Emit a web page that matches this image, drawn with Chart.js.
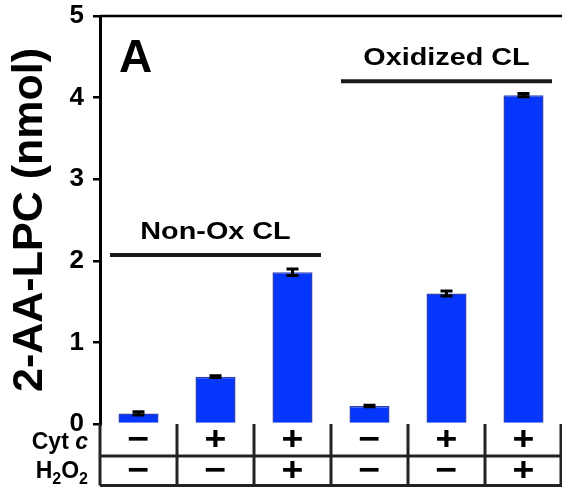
<!DOCTYPE html>
<html>
<head>
<meta charset="utf-8">
<script src="https://cdn.jsdelivr.net/npm/chart.js@4"></script>
<style>
  html, body { margin: 0; padding: 0; background: #fff; }
  #wrap { width: 562px; height: 487px; }
</style>
</head>
<body>
<div id="wrap"><canvas id="grafico" width="562" height="487"></canvas></div>
<script>
const categorias = ["1", "2", "3", "4", "5", "6"];
const valores = [0.13, 0.58, 1.86, 0.22, 1.60, 4.03];
const erros = [0.02, 0.01, 0.04, 0.01, 0.03, 0.02];
const linhaCyt = ["−", "+", "+", "−", "+", "+"];
const linhaH2O2 = ["−", "−", "+", "−", "−", "+"];
const grupos = [
  { nome: "Non-Ox CL", de: 0, ate: 2, valorY: 2.07 },
  { nome: "Oxidized CL", de: 3, ate: 5, valorY: 4.2 }
];
const ticksY = [0, 1, 2, 3, 4, 5];

const FONTE = "'Liberation Sans', Arial, sans-serif";

// texto esticado na horizontal, como no original
function textoLargo(ctx, txt, x, y, esc) {
  ctx.save();
  ctx.translate(x, y);
  ctx.scale(esc, 1);
  ctx.fillText(txt, 0, 0);
  ctx.restore();
}

const pluginDesenho = {
  id: "desenho",
  afterDatasetsDraw(chart) {
    const ctx = chart.ctx;
    const x = chart.scales.x;
    const y = chart.scales.y;
    const area = chart.chartArea;
    const meta = chart.getDatasetMeta(0);

    // barras de erro
    ctx.save();
    ctx.strokeStyle = "#000";
    ctx.lineWidth = 3;
    meta.data.forEach((bar, i) => {
      const cx = bar.x;
      const yTop = y.getPixelForValue(valores[i] + erros[i]);
      const yBot = y.getPixelForValue(valores[i] - erros[i]);
      ctx.beginPath();
      ctx.moveTo(cx, yTop); ctx.lineTo(cx, yBot);
      ctx.moveTo(cx - 6, yTop); ctx.lineTo(cx + 6, yTop);
      ctx.moveTo(cx - 6, yBot); ctx.lineTo(cx + 6, yBot);
      ctx.stroke();
    });

    // linha superior
    ctx.lineWidth = 2.5;
    ctx.beginPath();
    ctx.moveTo(area.left, area.top);
    ctx.lineTo(area.right, area.top);
    ctx.stroke();

    // "A"
    ctx.fillStyle = "#000";
    ctx.font = "bold 46px " + FONTE;
    ctx.textAlign = "left";
    ctx.textBaseline = "alphabetic";
    ctx.fillText("A", 119, 72);

    // grupos
    const passo = x.getPixelForValue(1) - x.getPixelForValue(0);
    grupos.forEach(g => {
      const x0 = x.getPixelForValue(g.de) - passo * 0.37;
      const x1 = x.getPixelForValue(g.ate) + passo * 0.37;
      const yl = y.getPixelForValue(g.valorY);
      ctx.lineWidth = 4;
      ctx.strokeStyle = "#1a1a1a";
      ctx.beginPath();
      ctx.moveTo(x0, yl); ctx.lineTo(x1, yl);
      ctx.stroke();
      ctx.font = "bold 24px " + FONTE;
      ctx.textAlign = "center";
      ctx.fillStyle = "#000";
      textoLargo(ctx, g.nome, (x0 + x1) / 2, yl - 16, 1.2);
    });

    // tabela
    const topo = area.bottom;
    const meio = topo + 32;
    const base = chart.height - 1.5;
    ctx.strokeStyle = "#222";
    ctx.lineWidth = 3;
    ctx.beginPath();
    ctx.moveTo(area.left, meio); ctx.lineTo(area.right, meio);
    ctx.moveTo(area.left, base); ctx.lineTo(area.right, base);
    for (let i = 0; i <= categorias.length; i++) {
      const cx = i < categorias.length ? x.getPixelForValue(i) - passo / 2 : area.right - 1;
      ctx.moveTo(cx, topo); ctx.lineTo(cx, base);
    }
    ctx.stroke();

    ctx.fillStyle = "#000";
    ctx.font = "bold 34px " + FONTE;
    ctx.textAlign = "center";
    ctx.textBaseline = "middle";
    categorias.forEach((c, i) => {
      const cx = x.getPixelForValue(i);
      textoLargo(ctx, linhaCyt[i], cx, (topo + meio) / 2 + 1, 1.1);
      textoLargo(ctx, linhaH2O2[i], cx, (meio + base) / 2 + 1, 1.1);
    });

    // rótulos das linhas
    ctx.textAlign = "right";
    ctx.textBaseline = "alphabetic";
    ctx.font = "bold italic 23px " + FONTE;
    const wc = ctx.measureText("c").width;
    ctx.fillText("c", 88, 449);
    ctx.font = "bold 23px " + FONTE;
    ctx.fillText("Cyt ", 88 - wc, 449);

    const partes = [["H", false], ["2", true], ["O", false], ["2", true]];
    let total = 0;
    partes.forEach(p => {
      ctx.font = (p[1] ? "bold 16px " : "bold 23px ") + FONTE;
      total += ctx.measureText(p[0]).width;
    });
    let px = 88 - total;
    ctx.textAlign = "left";
    partes.forEach(p => {
      ctx.font = (p[1] ? "bold 16px " : "bold 23px ") + FONTE;
      ctx.fillText(p[0], px, p[1] ? 484 : 478);
      px += ctx.measureText(p[0]).width;
    });
    ctx.restore();
  }
};

new Chart(document.getElementById("grafico"), {
  type: "bar",
  data: {
    labels: categorias,
    datasets: [{
      data: valores,
      backgroundColor: "#0536fb",
      borderColor: "#2b3fb8",
      borderWidth: 1.5,
      barPercentage: 0.52,
      categoryPercentage: 1
    }]
  },
  options: {
    responsive: false,
    animation: false,
    layout: { padding: { top: 16, bottom: 63, right: 0, left: 0 } },
    plugins: { legend: { display: false }, tooltip: { enabled: false } },
    scales: {
      x: { display: false },
      y: {
        min: 0,
        max: 5,
        afterFit(scale) {
          scale.width = 100;
          scale.paddingTop = 0;
          scale.paddingBottom = 0;
        },
        afterBuildTicks(scale) { scale.ticks = ticksY.map(v => ({ value: v })); },
        border: { display: true, color: "#000", width: 3 },
        grid: { display: true, drawOnChartArea: false, drawTicks: true, tickLength: 7, color: "#000", lineWidth: 2.5 },
        ticks: {
          color: "#000",
          padding: 9,
          font: { family: FONTE, size: 26, weight: "bold" }
        },
        title: {
          display: true,
          text: "2-AA-LPC (nmol)",
          color: "#000",
          padding: { top: 4, bottom: 0 },
          font: { family: FONTE, size: 43, weight: "bold" }
        }
      }
    }
  },
  plugins: [pluginDesenho]
});
</script>
</body>
</html>
